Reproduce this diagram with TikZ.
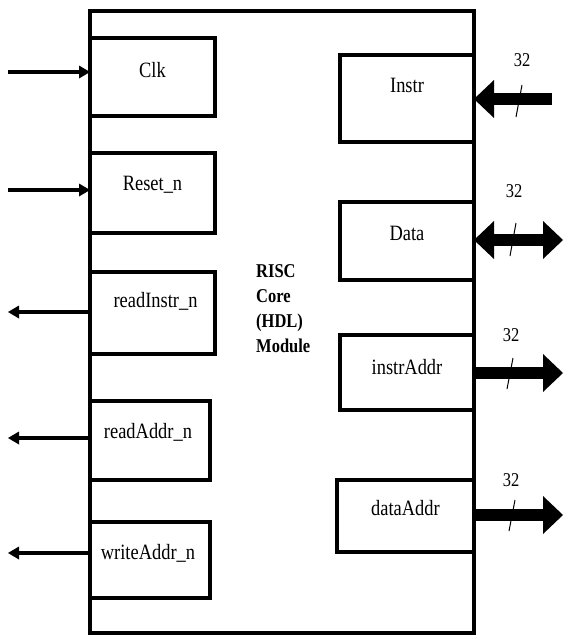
\documentclass[tikz,border=0pt]{standalone}
\usepackage{fontspec}
\setmainfont{Liberation Serif}
\usetikzlibrary{arrows.meta,calc}
\newcommand\tall[1]{\scalebox{0.97}[1.15]{#1}}
\begin{document}
\begin{tikzpicture}[x=1pt,y=-1pt,
  box/.style={draw, line width=3.5pt, rectangle, inner sep=0pt, outer sep=0pt, anchor=north west},
  lbl/.style={inner sep=0pt, font=\fontsize{19}{22}\selectfont},
  num/.style={inner sep=0pt, font=\fontsize{17}{20}\selectfont},
  sig/.style={line width=3.2pt, -{Triangle[length=11pt,width=13pt,line width=0pt]}},
  bus/.style={line width=12pt, -{Triangle[length=20pt,width=38pt,line width=0pt]}},
  tick/.style={line width=1pt}]
\useasboundingbox (0,0) rectangle (563,637);
% outer module
\node[box, minimum width=384pt, minimum height=622pt] (core) at (90,11) {};
% left port boxes
\node[box, minimum width=125pt, minimum height=78pt] (clk) at (90,38) {};
\node[box, minimum width=125pt, minimum height=80pt] (rst) at (90,153) {};
\node[box, minimum width=125pt, minimum height=82pt] (rdi) at (90,272) {};
\node[box, minimum width=120pt, minimum height=79pt] (rda) at (90,401) {};
\node[box, minimum width=120pt, minimum height=76pt] (wra) at (90,522) {};
% right port boxes
\node[box, minimum width=134pt, minimum height=87pt] (instr) at (340,55) {};
\node[box, minimum width=134pt, minimum height=78pt] (data) at (340,202) {};
\node[box, minimum width=134pt, minimum height=75pt] (iaddr) at (340,335) {};
\node[box, minimum width=137pt, minimum height=72pt] (daddr) at (337,480) {};
% labels
\node[lbl] (tclk) at ($(clk.north)+(0,32)$) {\tall{Clk}};
\node[lbl] (trst) at ($(rst.north)+(0,32)$) {\tall{Reset\_n}};
\node[lbl] (trdi) at ($(rdi.north)+(3,29)$) {\tall{readInstr\_n}};
\node[lbl] (trda) at ($(rda.north)+(-2,31)$) {\tall{readAddr\_n}};
\node[lbl] (twra) at ($(wra.north)+(-2,31)$) {\tall{writeAddr\_n}};
\node[lbl] (tinstr) at ($(instr.north)+(0,30)$) {\tall{Instr}};
\node[lbl] (tdata) at ($(data.north)+(0,31)$) {\tall{Data}};
\node[lbl] (tiaddr) at ($(iaddr.north)+(0,32)$) {\tall{instrAddr}};
\node[lbl] (tdaddr) at ($(daddr.north)+(0,28)$) {\tall{dataAddr}};
% module title
\node[inner sep=0pt, anchor=west, align=left, font=\bfseries\fontsize{17}{25}\selectfont] (title) at (256,309)
  {\tall{RISC}\\\tall{Core}\\\tall{(HDL)}\\\tall{Module}};
% left signals
\coordinate (inclk) at (8,72);
\coordinate (inrst) at (8,190);
\coordinate (ordi) at (8,312);
\coordinate (orda) at (8,438);
\coordinate (owra) at (8,553);
\draw[sig, line width=3.8pt] (inclk) -- (inclk -| clk.west);
\draw[sig] (inrst) -- (inrst -| rst.west);
\draw[sig] (ordi -| rdi.west) -- (ordi);
\draw[sig] (orda -| rda.west) -- (orda);
\draw[sig] (owra -| wra.west) -- (owra);
% right buses
\coordinate (ein) at (552,99);
\coordinate (edata) at (563,240);
\coordinate (eia) at (563,373);
\coordinate (eda) at (563,515);
\draw[bus] (ein) -- (ein -| instr.east);
\draw[bus, {Triangle[length=20pt,width=38pt,line width=0pt]}-{Triangle[length=20pt,width=38pt,line width=0pt]}] (edata -| data.east) -- (edata);
\draw[bus] (eia -| iaddr.east) -- (eia);
\draw[bus] (eda -| daddr.east) -- (eda);
% bus width ticks and labels
\draw[tick] (522,85) -- (516,117);
\draw[tick] (516,223) -- (510,256);
\draw[tick] (513,358) -- (507,389);
\draw[tick] (515,500) -- (509,531);
\node[num] (w1) at (522,60) {\tall{32}};
\node[num] (w2) at (514,191) {\tall{32}};
\node[num] (w3) at (511,335) {\tall{32}};
\node[num] (w4) at (511,480) {\tall{32}};
\end{tikzpicture}
\end{document}
